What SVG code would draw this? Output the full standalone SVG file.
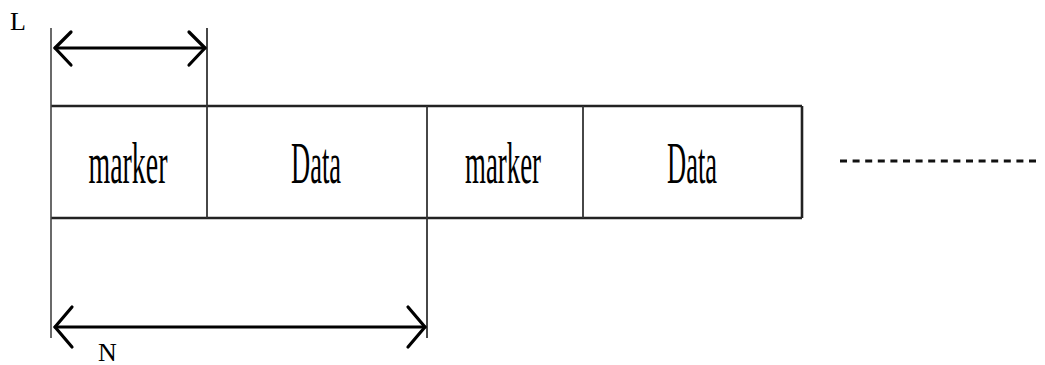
<svg xmlns="http://www.w3.org/2000/svg" width="1045" height="365" viewBox="0 0 1045 365">
  <style>
    .cell { font-family: "Liberation Serif", "Times New Roman", serif; font-size: 60px; fill: #000; }
    .lbl { font-family: "Liberation Serif", "Times New Roman", serif; font-size: 26px; fill: #000; }
    .edge { stroke: #222; stroke-width: 2.6; fill: none; }
    .div { stroke: #333; stroke-width: 1.8; fill: none; }
    .ext { stroke: #444; stroke-width: 1.6; fill: none; }
    .dim { stroke: #000; stroke-width: 3.2; fill: none; stroke-linecap: round; stroke-linejoin: round; }
  </style>

  <rect width="1045" height="365" fill="#fff"/>

  <!-- frame of the packet stream -->
  <g id="frame">
    <line class="edge" x1="51" y1="106" x2="802" y2="106"/>
    <line class="edge" x1="51" y1="218" x2="802" y2="218"/>
    <line class="edge" x1="802" y1="106" x2="802" y2="218"/>
  </g>

  <g id="marker1">
    <text class="cell" x="128" y="183" text-anchor="middle" textLength="79" lengthAdjust="spacingAndGlyphs">marker</text>
  </g>
  <g id="data1">
    <text class="cell" x="316" y="183" text-anchor="middle" textLength="50" lengthAdjust="spacingAndGlyphs">Data</text>
  </g>
  <g id="marker2">
    <text class="cell" x="503" y="183" text-anchor="middle" textLength="76" lengthAdjust="spacingAndGlyphs">marker</text>
  </g>
  <g id="data2">
    <text class="cell" x="692" y="183" text-anchor="middle" textLength="50" lengthAdjust="spacingAndGlyphs">Data</text>
  </g>

  <!-- continuation -->
  <g id="more">
    <line x1="840" y1="161" x2="1041" y2="161" stroke="#111" stroke-width="3" stroke-dasharray="7 5.6"/>
  </g>

  <g id="connectors">
    <!-- extension / divider lines -->
    <line class="ext" x1="51" y1="28" x2="51" y2="338"/>
    <line class="div" x1="207" y1="28" x2="207" y2="218"/>
    <line class="div" x1="427" y1="106" x2="427" y2="338"/>
    <line class="div" x1="583" y1="106" x2="583" y2="218"/>

    <!-- L dimension -->
    <line class="dim" x1="55" y1="48" x2="205" y2="48"/>
    <polyline class="dim" points="71,32 55,48 71,65"/>
    <polyline class="dim" points="189,32 205,48 189,65"/>

    <!-- N dimension -->
    <line class="dim" x1="55" y1="327" x2="425" y2="327"/>
    <polyline class="dim" points="72,307 55,327 72,347"/>
    <polyline class="dim" points="408,307 425,327 408,347"/>
  </g>

  <g id="labels">
    <text class="lbl" x="10" y="30">L</text>
    <text class="lbl" x="98" y="361">N</text>
  </g>
</svg>
